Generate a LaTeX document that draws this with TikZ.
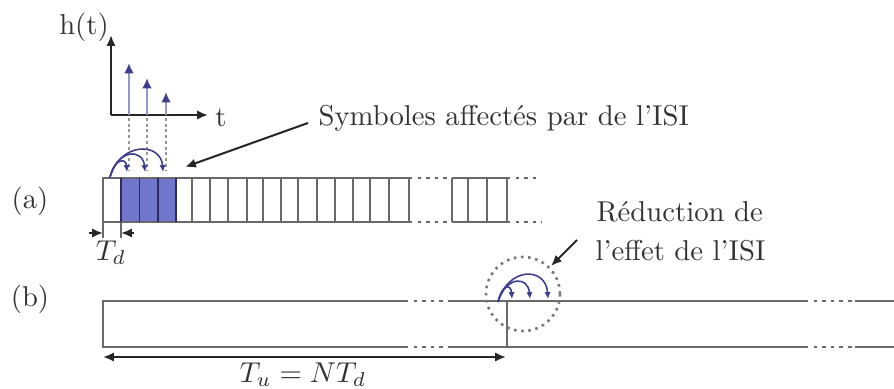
\documentclass[tikz,border=0pt]{standalone}
\usetikzlibrary{arrows.meta}
\definecolor{cellfill}{RGB}{112,118,204}
\definecolor{isi}{RGB}{62,62,140}
\definecolor{shaft}{RGB}{150,150,205}
\definecolor{boxline}{RGB}{105,105,105}
\begin{document}
\begin{tikzpicture}[x=0.3484pt,y=-0.3484pt,
  boxln/.style={draw=boxline,line width=0.5pt},
  cellln/.style={draw=isi!70!black,line width=0.45pt},
  dotln/.style={draw=boxline,line width=0.6pt,dash pattern=on 1.2pt off 1.8pt},
  dropln/.style={draw=boxline!70,line width=0.45pt,dash pattern=on 1pt off 1pt},
  circdot/.style={draw=boxline!90,line width=0.9pt,dash pattern=on 0.9pt off 1.6pt},
  arr/.style={-{Latex[length=3.8pt,width=3.2pt]},line width=0.7pt,draw=black!85},
  dblarr/.style={{Latex[length=3.8pt,width=3.2pt]}-{Latex[length=3.8pt,width=3.2pt]},line width=0.7pt,draw=black!85},
  impulse/.style={draw=shaft,line width=0.8pt,-{Latex[length=3.6pt,width=3.4pt,color=isi]}},
  isiarc/.style={draw=isi,line width=0.55pt,-{Latex[length=2.4pt,width=2.2pt]}},
  lbl/.style={inner sep=0pt,text=black!80}]
\useasboundingbox (0,0) rectangle (894,389);

% impulse response axes
\coordinate (O) at (111,115);
\coordinate (Ytip) at (111,35);
\coordinate (Xtip) at (208,115);
\draw[arr] (O) -- (Ytip);
\draw[arr] (O) -- (Xtip);
\node[lbl] (ht) at (84,27) {h(t)};
\node[lbl] (tl) at (221,118) {t};

% impulses and dotted drop lines
\foreach \x/\top [count=\i] in {129/63,147/78,166/92}{
  \coordinate (ib\i) at (\x,115);
  \coordinate (it\i) at (\x,\top);
  \draw[impulse] (ib\i) -- (it\i);
  \coordinate (d\i) at (\x,118);
  \coordinate (e\i) at (\x,171);
  \draw[dropln] (d\i) -- (e\i);
}

% row (a)
\fill[cellfill] (121,178) rectangle (176,222);
\draw[boxln] (409,178) -- (103,178) -- (103,222) -- (409,222);
\foreach \x in {121,139.5,158,176}{\draw[cellln] (\x,178) -- (\x,222);}
\foreach \x in {192,210,228,247,263,281,298,317,335,353,370,389,409}{\draw[boxln] (\x,178) -- (\x,222);}
\draw[dotln] (409,178) -- (450,178);
\draw[dotln] (409,222) -- (450,222);
\draw[boxln] (452,178) -- (507,178);
\draw[boxln] (452,222) -- (507,222);
\foreach \x in {452,468,487,507}{\draw[boxln] (\x,178) -- (\x,222);}
\draw[dotln] (507,178) -- (538,178);
\draw[dotln] (507,222) -- (542,222);

% ISI arcs (a)
\coordinate (a0) at (110,177);
\coordinate (a1) at (127,172);
\coordinate (a2) at (145,172);
\coordinate (a3) at (163,172);
\draw[isiarc] (a0) .. controls (115,157.8) and (126,157.8) .. (a1);
\draw[isiarc] (a0) .. controls (118,148.5) and (143,148.5) .. (a2);
\draw[isiarc] (a0) .. controls (120,141.8) and (161,141.8) .. (a3);

% label and arrow for affected symbols
\node[lbl,anchor=base west] (sym) at (318,126) {Symboles affectés par de l'ISI};
\coordinate (sA) at (308,123);
\coordinate (sB) at (185,167);
\draw[arr] (sA) -- (sB);

% T_d
\draw[boxln] (103,222) -- (103,238);
\draw[boxln] (121,222) -- (121,238);
\coordinate (tdl) at (89,233);
\coordinate (tdl2) at (103,233);
\coordinate (tdr) at (134,233);
\coordinate (tdr2) at (121,233);
\draw[arr] (tdl) -- (tdl2);
\draw[arr] (tdr) -- (tdr2);
\node[lbl] (td) at (111,253) {$T_d$};

% labels (a), (b)
\node[lbl] (la) at (30,201) {(a)};
\node[lbl] (lb) at (30,299) {(b)};

% row (b)
\draw[boxln] (405,301) -- (103,301) -- (103,347) -- (405,347);
\draw[dotln] (405,301) -- (452,301);
\draw[dotln] (405,347) -- (452,347);
\draw[boxln] (452,301) -- (805,301);
\draw[boxln] (452,347) -- (805,347);
\draw[dotln] (805,301) -- (855,301);
\draw[dotln] (805,347) -- (855,347);
\draw[boxln] (855,301) -- (894,301);
\draw[boxln] (855,347) -- (894,347);
\draw[boxln] (507,301) -- (507,347);

% T_u arrow
\coordinate (tuL) at (103,357);
\coordinate (tuR) at (506,357);
\draw[dblarr] (tuL) -- (tuR);
\node[lbl] (tu) at (303,375) {$T_u = NT_d$};

% ISI arcs (b)
\coordinate (b0) at (498,302);
\coordinate (b1) at (512,299);
\coordinate (b2) at (530,299);
\coordinate (b3) at (548,299);
\draw[isiarc] (b0) .. controls (502,283.8) and (511,283.8) .. (b1);
\draw[isiarc] (b0) .. controls (506,275.8) and (528,275.8) .. (b2);
\draw[isiarc] (b0) .. controls (508,266.5) and (546,266.5) .. (b3);

% dotted circle and its label
\coordinate (cc) at (523,294);
\draw[circdot] (cc) circle (37);
\coordinate (cA) at (577,240);
\coordinate (cB) at (551,266);
\draw[arr] (cA) -- (cB);
\node[lbl,anchor=base west] (red1) at (596,222) {Réduction de};
\node[lbl,anchor=base west] (red2) at (595,261) {l'effet de l'ISI};
\end{tikzpicture}
\end{document}
